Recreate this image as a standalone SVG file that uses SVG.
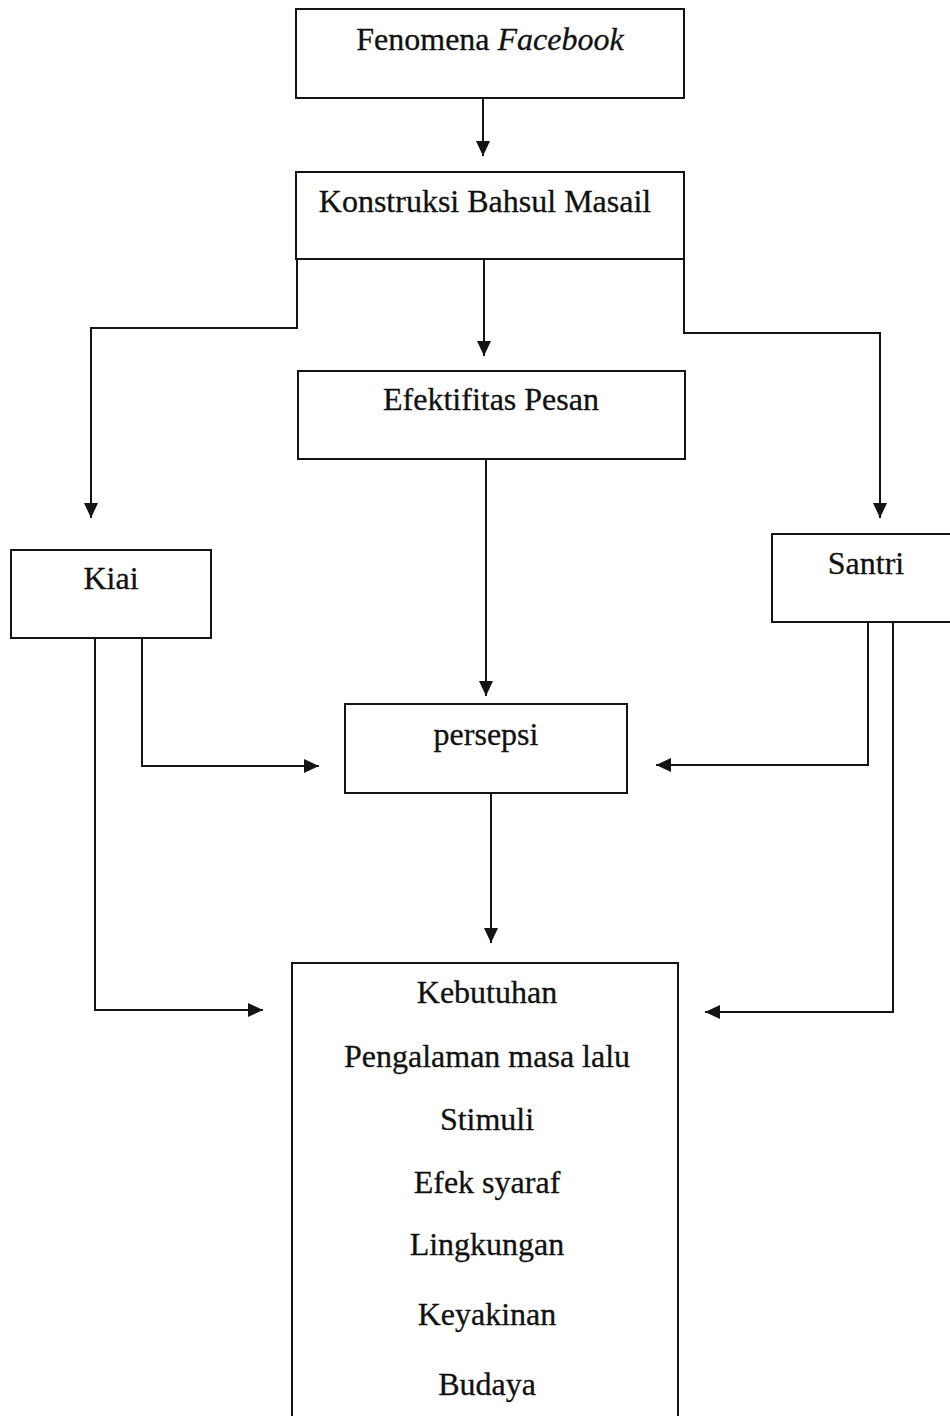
<svg xmlns="http://www.w3.org/2000/svg" width="950" height="1416" viewBox="0 0 950 1416">
<style>
.box{fill:#fff;stroke:#141414;stroke-width:2}
.t{font-family:"Liberation Serif","Times New Roman",serif;font-size:32px;fill:#111;stroke:#111;stroke-width:0.3;text-anchor:middle}
.c{fill:none;stroke:#141414;stroke-width:2;marker-end:url(#ah)}
</style>
<defs>
<marker id="ah" markerUnits="userSpaceOnUse" markerWidth="16" markerHeight="14" refX="15" refY="7" orient="auto">
<path d="M0,0 L15,7 L0,14 z" fill="#141414"/>
</marker>
</defs>
<rect width="950" height="1416" fill="#fff"/>
<g id="connectors">
<path class="c" d="M483,98 V156"/>
<path class="c" d="M484,259 V356"/>
<path class="c" d="M297,259 V328 H91 V518"/>
<path class="c" d="M684,259 V333 H880 V518"/>
<path class="c" d="M142,638 V766 H319"/>
<path class="c" d="M95,638 V1010 H263"/>
<path class="c" d="M486,459 V696"/>
<path class="c" d="M868,622 V765 H656"/>
<path class="c" d="M893,622 V1012 H705"/>
<path class="c" d="M491,793 V943"/>
</g>
<g id="n1"><rect class="box" x="296" y="9" width="388" height="89"/><text class="t" x="490" y="50">Fenomena <tspan font-style="italic">Facebook</tspan></text></g>
<g id="n2"><rect class="box" x="296" y="172" width="388" height="87"/><text class="t" x="485" y="212">Konstruksi Bahsul Masail</text></g>
<g id="n3"><rect class="box" x="298" y="371" width="387" height="88"/><text class="t" x="491" y="410">Efektifitas Pesan</text></g>
<g id="n4"><rect class="box" x="11" y="550" width="200" height="88"/><text class="t" x="111" y="589">Kiai</text></g>
<g id="n5"><rect class="box" x="772" y="534" width="182" height="88"/><text class="t" x="866" y="574">Santri</text></g>
<g id="n6"><rect class="box" x="345" y="704" width="282" height="89"/><text class="t" x="486" y="745">persepsi</text></g>
<g id="n7"><rect class="box" x="292" y="963" width="386" height="470"/>
<text class="t" x="487" y="1003">Kebutuhan</text>
<text class="t" x="487" y="1067">Pengalaman masa lalu</text>
<text class="t" x="487" y="1130">Stimuli</text>
<text class="t" x="487" y="1193">Efek syaraf</text>
<text class="t" x="487" y="1255">Lingkungan</text>
<text class="t" x="487" y="1325">Keyakinan</text>
<text class="t" x="487" y="1395">Budaya</text>
</g>
</svg>
